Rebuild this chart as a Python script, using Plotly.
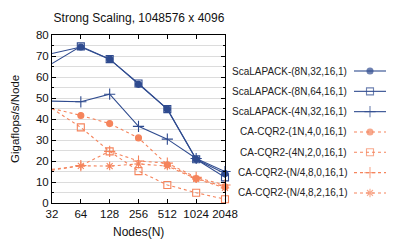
import plotly.graph_objects as go

nodes = [32, 64, 128, 256, 512, 1024, 2048]
tick_labels = ["32", "64", "128", "256", "512", "1024", "2048"]

sca_8n_32 = [71.2, 74.3, 68.5, 56.5, 44.7, 20.8, 14.0]
sca_8n_64 = [66.4, 74.6, 68.5, 56.9, 44.7, 20.8, 12.2]
sca_4n_32 = [48.5, 48.2, 51.8, 36.5, 30.4, 21.2, 15.0]
cqr_1n = [45.0, 41.7, 37.8, 31.0, 18.2, 11.7, 7.7]
cqr_4n = [45.0, 36.0, 24.6, 15.2, 8.6, 4.9, 1.8]
cqr_n4_0 = [15.6, 17.8, 24.6, 20.0, 19.0, 12.2, 8.6]
cqr_n4_2 = [16.0, 17.7, 17.6, 18.6, 17.6, 11.5, 7.2]

names = [
    "ScaLAPACK-(8N,32,16,1)",
    "ScaLAPACK-(8N,64,16,1)",
    "ScaLAPACK-(4N,32,16,1)",
    "CA-CQR2-(1N,4,0,16,1)",
    "CA-CQR2-(4N,2,0,16,1)",
    "CA-CQR2-(N/4,8,0,16,1)",
    "CA-CQR2-(N/4,8,2,16,1)",
]
series = [sca_8n_32, sca_8n_64, sca_4n_32, cqr_1n, cqr_4n, cqr_n4_0, cqr_n4_2]

BLUE = "#2f4b8f"
ORANGE = "#f5845c"
styles = [
    dict(color=BLUE, dash="solid", symbol="circle", size=6),
    dict(color=BLUE, dash="solid", symbol="square-open", size=7),
    dict(color=BLUE, dash="solid", symbol="cross-thin-open", size=8),
    dict(color=ORANGE, dash="dot", symbol="circle", size=6),
    dict(color=ORANGE, dash="dot", symbol="square-open", size=7),
    dict(color=ORANGE, dash="dot", symbol="cross-thin-open", size=8),
    dict(color=ORANGE, dash="dot", symbol="asterisk-open", size=7),
]

FONT = "Liberation Sans, Arial, sans-serif"
OFF = 8  # page body margin offset
W, H = 399 - OFF, 242 - OFF

def px(x):
    return x - OFF

def py(y):
    return y - OFF

ML = px(52)
MT = py(35)
MB = H - py(203)
MR = 10
plot_w = W - ML - MR
plot_h = H - MT - MB
x_dom_end = (px(225) - ML) / plot_w
key_x0 = (px(354) - ML) / plot_w
key_x1 = (px(386) - ML) / plot_w
text_x = (px(349) - ML) / plot_w
row0 = py(71) - MT
row_step = 20.33

fig = go.Figure()

for name, vals, st in zip(names, series, styles):
    fig.add_trace(go.Scatter(
        x=nodes, y=vals, name=name, mode="lines+markers",
        line=dict(color=st["color"], width=1.1, dash=st["dash"]),
        marker=dict(symbol=st["symbol"], size=st["size"], color=st["color"],
                    line=dict(color=st["color"], width=1.1)),
        cliponaxis=False, showlegend=False,
        xaxis="x", yaxis="y",
    ))

# custom legend (text on left, key on right, like the reference)
for i, (name, st) in enumerate(zip(names, styles)):
    fig.add_trace(go.Scatter(
        x=[0, 0.5, 1], y=[i, i, i], mode="lines+markers",
        line=dict(color=st["color"], width=1.1, dash=st["dash"]),
        marker=dict(symbol=st["symbol"], size=[0, st["size"], 0], color=st["color"],
                    line=dict(color=st["color"], width=1.1)),
        cliponaxis=False, showlegend=False, hoverinfo="skip",
        xaxis="x2", yaxis="y2",
    ))
    fig.add_annotation(
        x=text_x, xref="paper", y=i, yref="y2", text=name, showarrow=False,
        xanchor="right", yanchor="middle", font=dict(size=10, family=FONT, color="#222"),
    )

# axis titles
fig.add_annotation(
    x=(px(138) - ML) / plot_w, xref="paper", y=(py(203) - py(232)) / plot_h, yref="paper",
    text="Nodes(N)", showarrow=False, xanchor="center", yanchor="middle",
    font=dict(size=12, family=FONT, color="#111"),
)
fig.add_annotation(
    x=(px(15) - ML) / plot_w, xref="paper", y=0.5, yref="paper",
    text="Gigaflops/s/Node", showarrow=False, xanchor="center", yanchor="middle",
    textangle=-90, font=dict(size=11.5, family=FONT, color="#111"),
)

fig.update_layout(
    width=W, height=H,
    margin=dict(l=ML, r=MR, t=MT, b=MB, autoexpand=False),
    paper_bgcolor="white", plot_bgcolor="white",
    font=dict(family=FONT, color="#111", size=11),
    title=dict(text="Strong Scaling, 1048576 x 4096", x=px(139) / W, xanchor="center",
               y=1 - py(18) / H, yanchor="middle", font=dict(size=12, family=FONT)),
    xaxis=dict(
        domain=[0, x_dom_end], type="log",
        range=[0.30103 * 5, 0.30103 * 11],
        tickvals=nodes, ticktext=tick_labels, tickangle=0, automargin=False,
        showline=True, linecolor="black", linewidth=1, mirror="ticks",
        ticks="inside", ticklen=4, tickcolor="black", showgrid=False, zeroline=False,
        tickfont=dict(size=11.5, family=FONT),
    ),
    yaxis=dict(
        range=[0, 80], dtick=10, tick0=0, automargin=False,
        showline=True, linecolor="black", linewidth=1, mirror="ticks",
        ticks="inside", ticklen=4, tickcolor="black",
        showgrid=True, gridcolor="#dcdcdc", gridwidth=1, zeroline=False,
        minor=dict(dtick=5, showgrid=True, gridcolor="#dcdcdc", ticks="inside",
                   ticklen=2, tickcolor="black"),
        tickfont=dict(size=11.5, family=FONT),
    ),
    xaxis2=dict(domain=[key_x0, key_x1], range=[0, 1], visible=False, anchor="y2"),
    yaxis2=dict(domain=[0, 1],
                range=[(plot_h - row0) / row_step, -row0 / row_step],
                visible=False, anchor="x2"),
)

fig.write_html("out.html")
